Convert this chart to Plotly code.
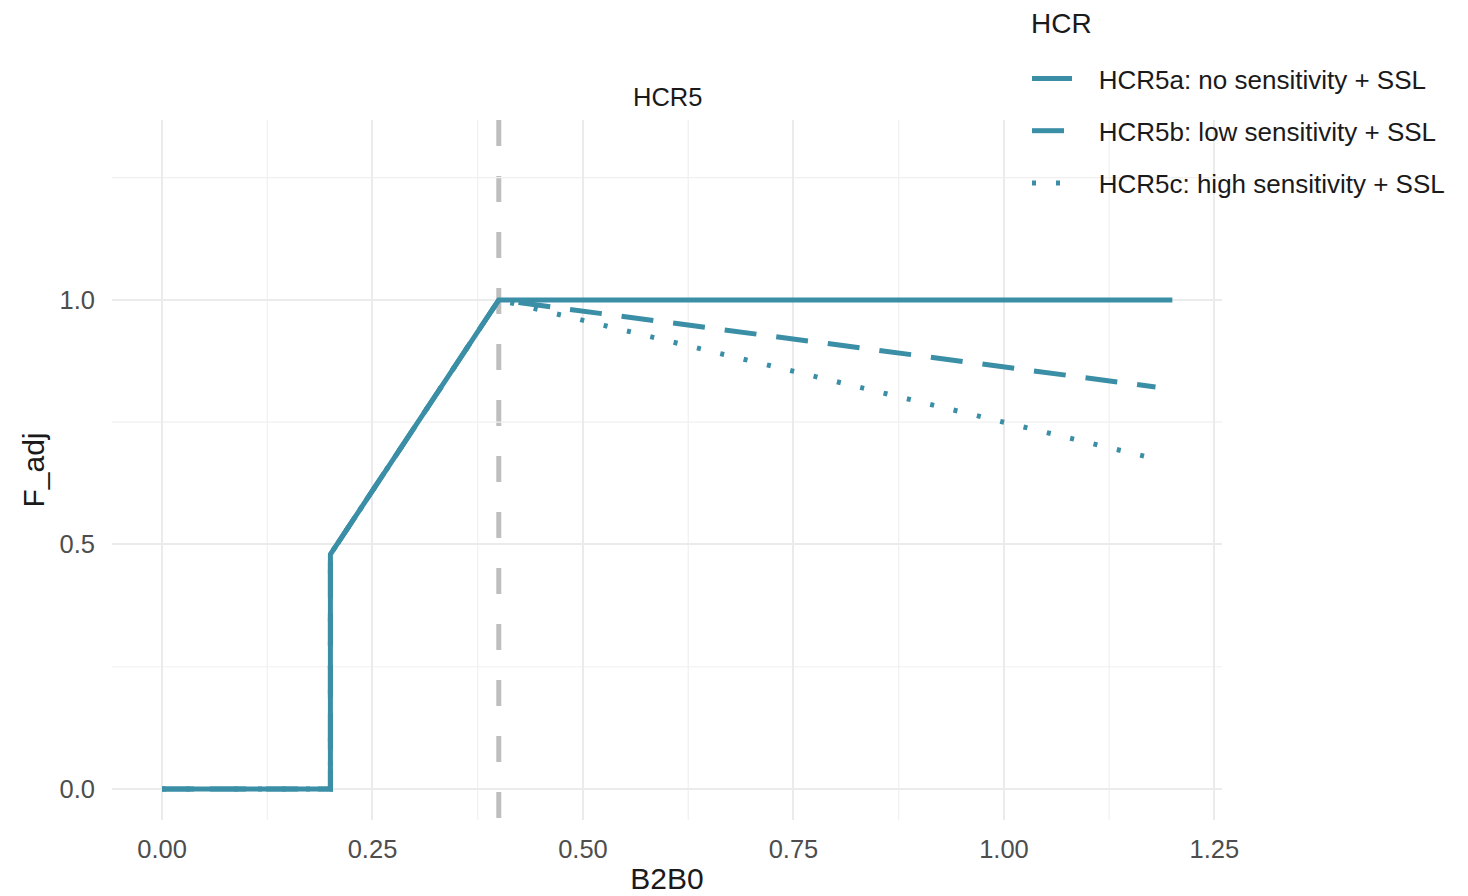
import plotly.graph_objects as go

# Data
x_a = [0.0, 0.2, 0.2, 0.4, 1.2]
y_a = [0.0, 0.0, 0.48, 1.0, 1.0]
x_b = [0.0, 0.2, 0.2, 0.4, 1.18]
y_b = [0.0, 0.0, 0.48, 1.0, 0.822]
x_c = [0.0, 0.2, 0.2, 0.4, 1.18]
y_c = [0.0, 0.0, 0.48, 1.0, 0.675]
names = ["HCR5a: no sensitivity + SSL",
         "HCR5b: low sensitivity + SSL",
         "HCR5c: high sensitivity + SSL"]
vline_x = 0.4
x_ticks = [0.0, 0.25, 0.5, 0.75, 1.0, 1.25]
x_tick_labels = ["0.00", "0.25", "0.50", "0.75", "1.00", "1.25"]
y_ticks = [0.0, 0.5, 1.0]
y_tick_labels = ["0.0", "0.5", "1.0"]
x_minor = [0.125, 0.375, 0.625, 0.875, 1.125]
y_minor = [0.25, 0.75, 1.25]

col = "#3a8ea5"
FONT = "Liberation Sans, Arial, sans-serif"
PAD = "\u00a0\u00a0\u00a0"

W, H = 1460, 888
L, T, R, B = 104, 112, 246, 76
PW, PH = W - L - R, H - T - B

fig = go.Figure()
for i, (xs, ys, nm, dash) in enumerate([
        (x_c, y_c, names[2], "4px,20px"),
        (x_b, y_b, names[1], "32px,20px"),
        (x_a, y_a, names[0], "solid")]):
    fig.add_trace(go.Scatter(x=xs, y=ys, mode="lines", name=PAD + nm,
                             line=dict(color=col, width=5, dash=dash),
                             legendgroup=nm, legendrank=3 - i))

xr = [-0.0594, 1.259]
yr = [-0.0634, 1.368]

# minor gridlines
for v in x_minor:
    fig.add_shape(type="line", x0=v, x1=v, y0=yr[0], y1=yr[1], xref="x", yref="y",
                  line=dict(color="#f0f0f0", width=1.2), layer="below")
for v in y_minor:
    fig.add_shape(type="line", y0=v, y1=v, x0=xr[0], x1=xr[1], xref="x", yref="y",
                  line=dict(color="#f0f0f0", width=1.2), layer="below")

# vertical reference line (drawn top -> bottom so the dash pattern starts at the top)
fig.add_shape(type="line", x0=vline_x, x1=vline_x, y0=1, y1=0, xref="x", yref="paper",
              line=dict(color="#bebebe", width=5, dash="26px,30px"), layer="below")

fig.update_layout(
    width=W, height=H,
    margin=dict(l=L, r=R, t=T, b=B, autoexpand=False),
    paper_bgcolor="white", plot_bgcolor="white",
    font=dict(family=FONT, color="#4d4d4d"),
    xaxis=dict(range=xr, tickvals=x_ticks, ticktext=x_tick_labels, showgrid=True,
               gridcolor="#ebebeb", gridwidth=1.6, zeroline=False, showline=False,
               ticks="", ticklabelstandoff=11, tickfont=dict(size=25.5, color="#4d4d4d"),
               title=dict(text="B2B0", font=dict(size=30, color="#1a1a1a"), standoff=6)),
    yaxis=dict(range=yr, tickvals=y_ticks, ticktext=y_tick_labels, showgrid=True,
               gridcolor="#ebebeb", gridwidth=1.6, zeroline=False, showline=False,
               ticks="", ticklabelstandoff=16, tickfont=dict(size=25.5, color="#4d4d4d"),
               title=dict(text="F_adj", font=dict(size=30, color="#1a1a1a"), standoff=6)),
    legend=dict(xref="container", yref="container", x=1019 / W, y=1 - 47 / H,
                xanchor="left", yanchor="top",
                font=dict(size=26, color="#1a1a1a"), tracegroupgap=15.5,
                itemwidth=40, traceorder="grouped", bgcolor="rgba(0,0,0,0)"),
    showlegend=True,
)
fig.add_annotation(text="HCR", x=(1021 - L) / PW, y=(T + PH - 15) / PH, xref="paper", yref="paper",
                   showarrow=False, font=dict(size=28, color="#1a1a1a"),
                   xanchor="left", yanchor="middle")
fig.add_annotation(text="HCR5", x=0.5, y=(T + PH - 89) / PH, xref="paper", yref="paper",
                   showarrow=False, font=dict(size=25.5, color="#1a1a1a"),
                   xanchor="center", yanchor="middle")

fig.write_html("out.html")
